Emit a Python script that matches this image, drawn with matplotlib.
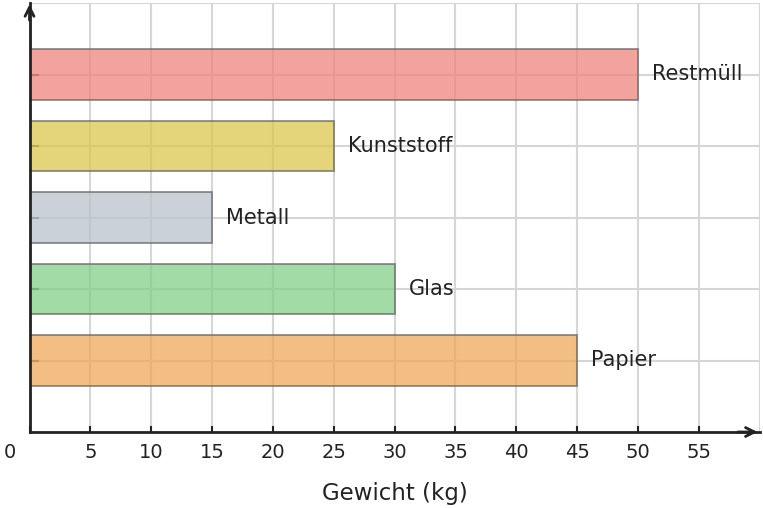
import matplotlib
matplotlib.use("Agg")
import matplotlib.pyplot as plt
from matplotlib.transforms import ScaledTranslation

# Data
categories = ["Papier", "Glas", "Metall", "Kunststoff", "Restmüll"]
weights = [45, 30, 15, 25, 50]
colors = ["#EFA85A", "#83CF87", "#BAC4CA", "#DBC64E", "#EF857E"]
x_ticks = [0, 5, 10, 15, 20, 25, 30, 35, 40, 45, 50, 55]

fig = plt.figure(figsize=(7.63, 5.08), dpi=100)
ax = fig.add_axes([29.5 / 763, 76 / 508, 730.2 / 763, 429 / 508])

ypos = list(range(len(categories)))
ax.barh(ypos, weights, height=0.7, color=colors, alpha=0.75,
        edgecolor="#666666", linewidth=1.3, zorder=2)

# category names next to the bars
for y, w, name in zip(ypos, weights, categories):
    ax.annotate(name, (w, y), xytext=(10, 0), textcoords="offset points",
                va="center", ha="left", fontsize=15, color="#222222")

ax.set_xlim(0, 60)
ax.set_ylim(-1, 5)
ax.set_xticks(x_ticks)
ax.set_yticks(ypos)
ax.set_yticklabels([])
ax.set_axisbelow(True)
ax.grid(True, color="#d6d6d6", linewidth=1.5)
# extra lines at the frame edges
ax.axhline(5, color="#d6d6d6", linewidth=1.5, zorder=0.5)
ax.axvline(60, color="#d6d6d6", linewidth=1.5, zorder=0.5)

ax.tick_params(axis="x", direction="in", length=4, width=1.5, color="#222222",
               labelsize=14, labelcolor="#222222", pad=8)
ax.tick_params(axis="y", direction="in", length=6.5, width=1.5, color="#555555")

# shift the "0" label to the left of the origin
lbl0 = ax.get_xticklabels()[0]
lbl0.set_transform(lbl0.get_transform() + ScaledTranslation(-0.2, 0, fig.dpi_scale_trans))

for side in ["top", "right"]:
    ax.spines[side].set_visible(False)
for side in ["left", "bottom"]:
    ax.spines[side].set_linewidth(2)
    ax.spines[side].set_color("#222222")

# axis arrows
ax.annotate("", xy=(0.997, 0), xytext=(0.97, 0), xycoords="axes fraction",
            arrowprops=dict(arrowstyle="->", color="#222222", lw=2,
                            mutation_scale=16, shrinkA=0, shrinkB=0))
ax.annotate("", xy=(0, 0.997), xytext=(0, 0.96), xycoords="axes fraction",
            arrowprops=dict(arrowstyle="->", color="#222222", lw=2,
                            mutation_scale=16, shrinkA=0, shrinkB=0))

ax.set_xlabel("Gewicht (kg)", fontsize=16.5, color="#222222", labelpad=14)

plt.savefig("out.png", dpi=100)
